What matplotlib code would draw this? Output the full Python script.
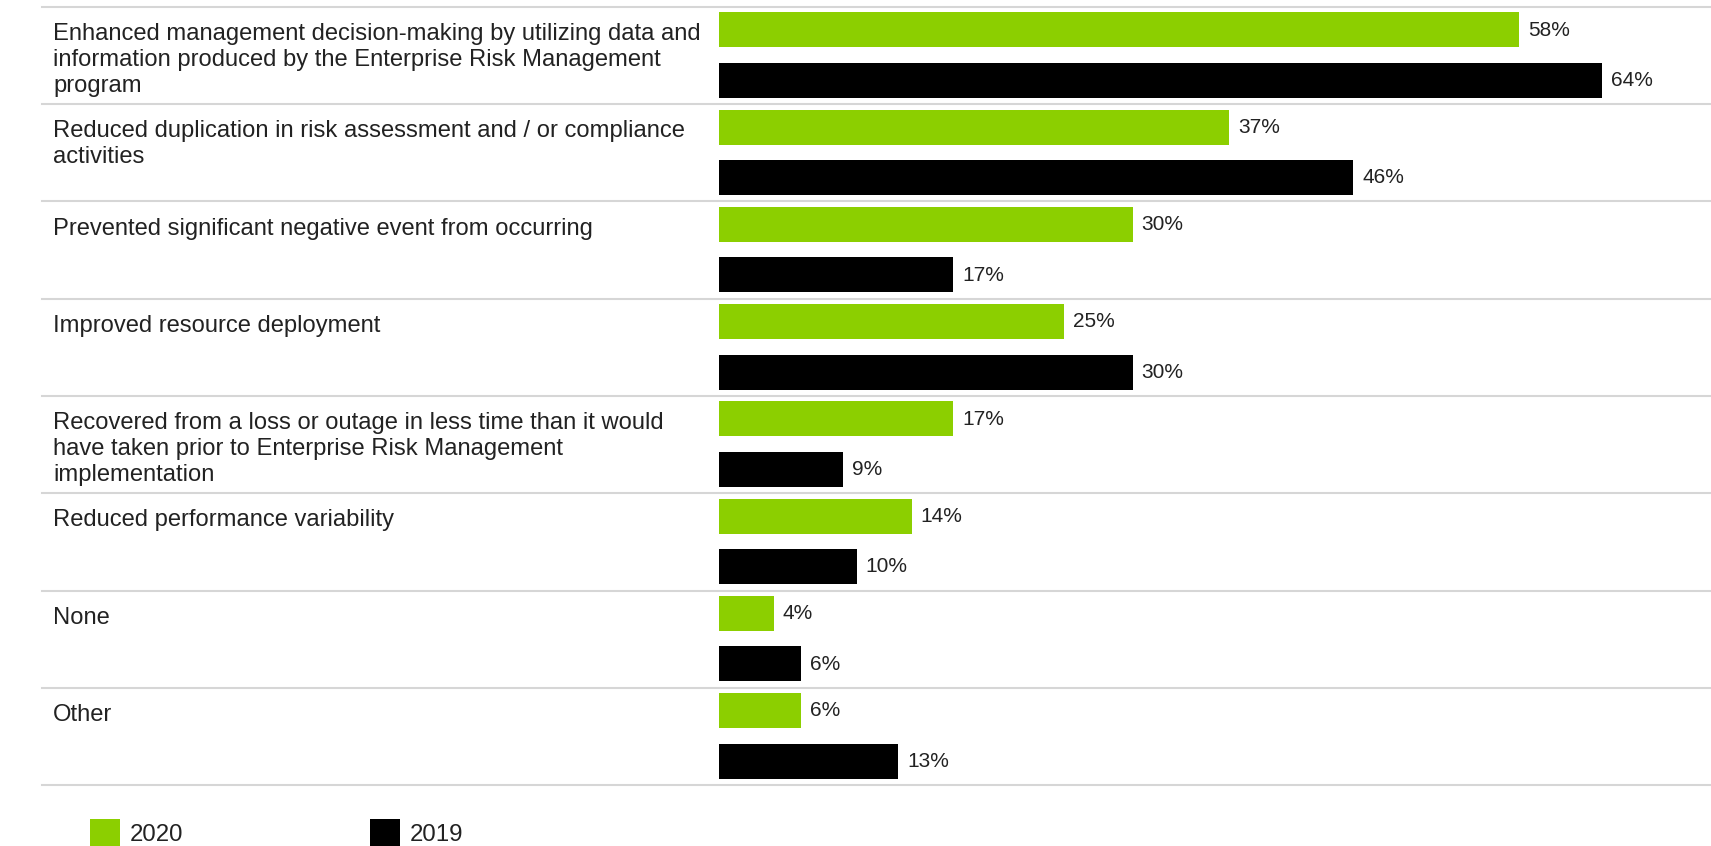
import numpy as np
import matplotlib.pyplot as plt
from matplotlib.patches import Patch

# survey answers, one group per benefit
categories = [
    "Enhanced management decision-making by utilizing data and\n"
    "information produced by the Enterprise Risk Management\nprogram",
    "Reduced duplication in risk assessment and / or compliance\nactivities",
    "Prevented significant negative event from occurring",
    "Improved resource deployment",
    "Recovered from a loss or outage in less time than it would\n"
    "have taken prior to Enterprise Risk Management\nimplementation",
    "Reduced performance variability",
    "None",
    "Other",
]
share_2020 = [58, 37, 30, 25, 17, 14, 4, 6]
share_2019 = [64, 46, 17, 30, 9, 10, 6, 13]
series_labels = ["2020", "2019"]

GREEN = "#8ccf00"
BLACK = "#000000"
TEXT = "#222222"
RULE = "#d6d6d6"

plt.rcParams['font.family'] = ['Liberation Sans', 'DejaVu Sans']

W, H = 1711, 846
fig = plt.figure(figsize=(W / 100, H / 100), dpi=100)
ax = fig.add_axes([0, 0, 1, 1])

# layout in pixels: bars start at x0, PX_PER_PCT per percent, groups PITCH tall
x0 = 718.5
PX_PER_PCT = 13.8
top = 7.0
PITCH = 97.25
ax.set_xlim(-x0 / PX_PER_PCT, (W - x0) / PX_PER_PCT)
ax.set_ylim((H - top) / PITCH, -top / PITCH)
ax.axis('off')

n = len(categories)
idx = np.arange(n)
y_green = idx + 23.0 / PITCH
y_black = idx + 73.5 / PITCH
bar_h = 35.0 / PITCH

ax.barh(y_green, share_2020, height=bar_h, color=GREEN, left=0)
ax.barh(y_black, share_2019, height=bar_h, color=BLACK, left=0)

pad = 9.0 / PX_PER_PCT
for y, v in zip(y_green, share_2020):
    ax.text(v + pad, y, f"{v}%", va='center', ha='left', fontsize=15, color=TEXT)
for y, v in zip(y_black, share_2019):
    ax.text(v + pad, y, f"{v}%", va='center', ha='left', fontsize=15, color=TEXT)

# group separators
for i in range(n + 1):
    ax.axhline(i, xmin=42 / W, xmax=1, color=RULE, lw=1.5, zorder=0)

# category labels, left column
lab_x = 53 / W
for i, lab in enumerate(categories):
    ax.text(lab_x, i + 16.0 / PITCH, lab, transform=ax.get_yaxis_transform(),
            ha='left', va='top', fontsize=17.15, color=TEXT, linespacing=1.24)

handles = [Patch(facecolor=GREEN, edgecolor='none'),
           Patch(facecolor=BLACK, edgecolor='none')]
fig.legend(handles, series_labels, loc='upper left',
           bbox_to_anchor=(90 / W, 1 - 819 / H), ncol=2, frameon=False,
           fontsize=17.3, handlelength=1.25, handleheight=1.35,
           handletextpad=0.42, columnspacing=7.75, borderpad=0,
           borderaxespad=0, labelcolor=TEXT)

fig.savefig("out.png", dpi=100)
